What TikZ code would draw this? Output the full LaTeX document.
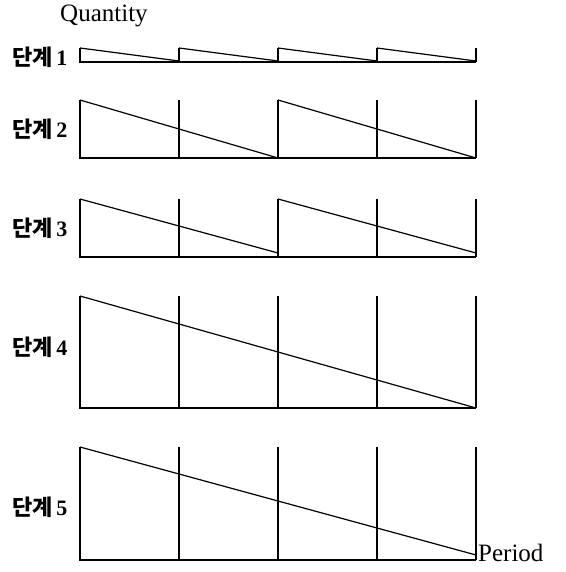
\documentclass[tikz,border=0pt]{standalone}
\usepackage{fontspec}
\setmainfont{Liberation Serif}
\newfontfamily\kr{Noto Sans CJK KR}
\usetikzlibrary{positioning}

\begin{document}
\begin{tikzpicture}[x=1pt,y=-1pt,
    ax/.style={line width=1.1pt},
    saw/.style={line width=1.2pt},
    stage/.style={font=\fontsize{22}{24}\selectfont\bfseries,anchor=west,inner sep=0pt},
    lbl/.style={font=\fontsize{25}{27}\selectfont,inner sep=0pt,anchor=base west}]
  \useasboundingbox (0,0) rectangle (565,572);
  \node[lbl] (qty) at (60,22) {Quantity};
  % stage / top / bottom / columns per cycle / end of each drop / label y
  \foreach \s/\t/\b/\c/\e/\ly in {1/48/62/1/61/57, 2/100/158/2/158/129, 3/199/257/2/253/228,
                                 4/296/408/4/408/347, 5/447/560/4/555/507}{
    \node[stage] (s\s) at (12,\ly) {{\kr 단계}\,\s};
    \draw[ax] (80,\t) |- (476,\b);
    \foreach \v in {179,278,377,476} \draw[ax] (\v,\t) -- (\v,\b);
    \pgfmathtruncatemacro{\n}{4/\c-1}
    \foreach \k in {0,...,\n} \draw[saw] (80+\k*\c*99,\t) -- (80+\k*\c*99+\c*99,\e);
  }
  \node[lbl] (per) at (478,561) {Period};
\end{tikzpicture}
\end{document}
